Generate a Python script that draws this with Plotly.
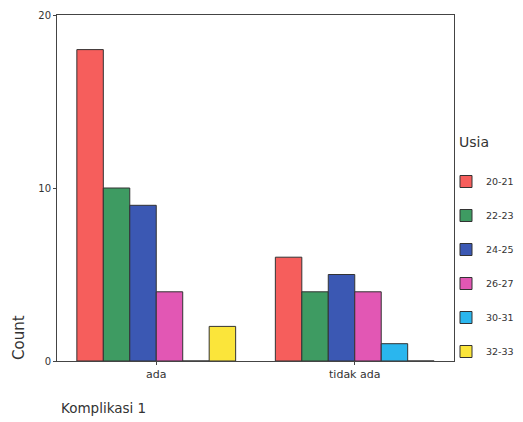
import plotly.graph_objects as go

categories = ["ada", "tidak ada"]
series_names = ["20-21", "22-23", "24-25", "26-27", "30-31", "32-33"]
values_20_21 = [18, 6]
values_22_23 = [10, 4]
values_24_25 = [9, 5]
values_26_27 = [4, 4]
values_30_31 = [0, 1]
values_32_33 = [2, 0]
y_ticks = [0, 10, 20]

series_values = [values_20_21, values_22_23, values_24_25, values_26_27, values_30_31, values_32_33]
colors = ["#F65E5C", "#3E9B62", "#3B58B3", "#E257B4", "#2AB6EE", "#FBE53A"]

# figure is drawn inside the page body, which has an 8px default margin
W, H = 515, 414
ML, MR, MT, MB = 49, 69, 7, 61
PW, PH = W - ML - MR, H - MT - MB
FONT = "DejaVu Sans, Arial, sans-serif"


def px_x(px):
    return (px - ML) / PW


def px_y(py):
    return (H - MB - py) / PH


fig = go.Figure()
for name, vals, col in zip(series_names, series_values, colors):
    fig.add_trace(go.Bar(
        x=categories, y=vals, name=name, legendgroup=name,
        marker=dict(color=col, line=dict(color="#333333", width=1)),
    ))

fig.update_layout(
    width=W, height=H,
    margin=dict(l=ML, r=MR, t=MT, b=MB, autoexpand=False),
    paper_bgcolor="white", plot_bgcolor="white",
    barmode="group", bargap=0.2, bargroupgap=0,
    font=dict(family=FONT, color="#333333", size=10),
    showlegend=True,
    legend=dict(
        x=px_x(438), xanchor="left", y=px_y(159), yanchor="top",
        tracegroupgap=15, itemwidth=30,
        font=dict(size=9.5),
        bgcolor="rgba(0,0,0,0)",
    ),
    xaxis=dict(
        showline=True, linecolor="#444444", linewidth=1, mirror=True,
        ticks="outside", ticklen=3, tickcolor="#444444",
        showgrid=False, tickfont=dict(size=11), automargin=False,
    ),
    yaxis=dict(
        range=[0, 20], tickvals=y_ticks,
        showline=True, linecolor="#444444", linewidth=1, mirror=True,
        ticks="outside", ticklen=3, tickcolor="#444444",
        showgrid=False, zeroline=False, tickfont=dict(size=10), automargin=False,
        ticklabeloverflow="allow",
    ),
    annotations=[
        dict(text="Count", textangle=-90, x=px_x(11), xref="paper",
             y=px_y(330), yref="paper",
             showarrow=False, xanchor="center", yanchor="middle",
             font=dict(size=15, color="#333333")),
        dict(text="Komplikasi 1", x=px_x(51), xref="paper",
             y=px_y(400), yref="paper",
             showarrow=False, xanchor="left", yanchor="middle",
             font=dict(size=13.5, color="#333333")),
        dict(text="Usia", x=px_x(449), xref="paper", y=px_y(134), yref="paper",
             showarrow=False, xanchor="left", yanchor="middle",
             font=dict(size=14, color="#333333")),
    ],
)

fig.write_html("out.html")
